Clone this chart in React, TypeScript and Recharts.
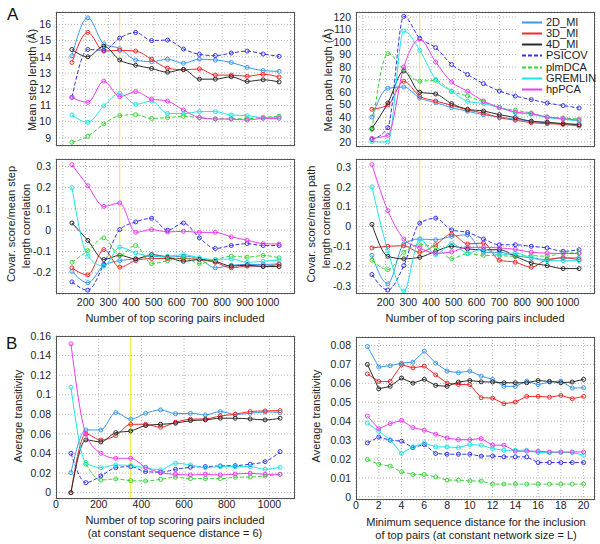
import React from 'react';
import { LineChart, Line, XAxis, YAxis, CartesianGrid, ReferenceLine } from 'recharts';

const FONT = '"Liberation Sans", Arial, Helvetica, sans-serif';

// x values
const topPairs = [140, 210, 280, 350, 420, 490, 560, 630, 700, 770, 840, 910, 980, 1050];
const transPairs = [70, 140, 210, 280, 350, 420, 490, 560, 630, 700, 770, 840, 910, 980, 1050];
const seqDistance = [1, 2, 3, 4, 5, 6, 7, 8, 9, 10, 11, 12, 13, 14, 15, 16, 17, 18, 19, 20];

const methods = ['2D_MI', '3D_MI', '4D_MI', 'PSICOV', 'plmDCA', 'GREMLIN', 'hpPCA'];
const colors: Record<string, string> = {
  '2D_MI': '#3a98f0',
  '3D_MI': '#f42a2a',
  '4D_MI': '#2a2a2a',
  PSICOV: '#3434f0',
  plmDCA: '#3ad43a',
  GREMLIN: '#1ee6e6',
  hpPCA: '#f03cf0',
};
const dashed: Record<string, boolean> = { PSICOV: true, plmDCA: true };

// panel A, top left
const meanStep: Record<string, (number | null)[]> = {
  '2D_MI': [14.06, 16.4, 14.8, 14.5, 13.8, 13.7, 13.85, 13.6, 13.85, 13.8, 13.65, 13.35, 13.15, 13.1],
  '3D_MI': [13.65, 15.5, 14.35, 14.4, 14.35, 13.85, 13.3, 13.2, 13.25, 12.87, 12.87, 12.8, 12.92, 12.75],
  '4D_MI': [14.45, 14.0, 14.65, 13.8, 13.48, 13.28, 13.05, 13.22, 12.62, 12.62, 12.77, 12.48, 12.58, 12.45],
  PSICOV: [11.5, 14.45, 14.4, 15.15, 15.5, 15.0, 15.03, 14.48, 14.15, 14.07, 14.23, 14.35, 14.17, 14.03],
  plmDCA: [8.73, 9.1, 9.86, 10.37, 10.43, 10.2, 10.25, 10.33, 10.25, 10.18, 10.18, 10.18, 10.27, 10.33],
  GREMLIN: [10.41, 9.96, 10.97, 11.75, 11.07, 11.27, 10.51, 10.49, 10.62, 10.62, 10.41, 10.37, 10.25, 10.27],
  hpPCA: [11.5, 11.19, 12.5, 11.54, 11.85, 11.4, 11.27, 10.72, 10.25, 10.16, 10.16, 10.1, 10.2, 10.2],
};

// panel A, top right
const meanPath: Record<string, (number | null)[]> = {
  '2D_MI': [40, 63, 64, 55.2, 51.5, 47.5, 44.6, 41.9, 40, 38.2, 36.6, 35.2, 34.7, 34.1],
  '3D_MI': [46.2, 49.6, 68.6, 56.6, 52.8, 49.4, 45.6, 43.2, 39.5, 37.4, 35.5, 34.7, 34.1, 32.8],
  '4D_MI': [30.8, 51.2, 76.8, 59.8, 58.4, 50.7, 46.2, 44.8, 41.9, 39.5, 36.6, 35.8, 34.7, 33.9],
  PSICOV: [22, 31.5, 120.5, 103, 95.5, 82, 74, 66.7, 60.8, 56.8, 53.9, 51.2, 49.1, 47.2],
  plmDCA: [30, 90.7, 78, 68.6, 69.4, 60.6, 56.8, 52, 47.5, 45.4, 43.2, 40, 39.2, 38.4],
  GREMLIN: [20.3, 20, 108.8, 93.4, 70, 60.6, 52.6, 50.7, 47.5, 43.5, 42.2, 39.5, 38.2, 36.8],
  hpPCA: [23, 25.4, 80, 102.2, 84, 68, 60.6, 52.8, 47.7, 44, 42.7, 40, 38.7, 37.4],
};

// panel A, middle left
const corrStep: Record<string, (number | null)[]> = {
  '2D_MI': [-0.193, -0.247, -0.166, -0.143, -0.135, -0.122, -0.127, -0.122, -0.135, -0.177, -0.165, -0.161, -0.161, -0.158],
  '3D_MI': [-0.177, -0.21, -0.091, -0.174, -0.143, -0.133, -0.133, -0.133, -0.138, -0.151, -0.177, -0.169, -0.169, -0.161],
  '4D_MI': [0.034, -0.048, -0.138, -0.118, -0.135, -0.115, -0.127, -0.146, -0.138, -0.146, -0.169, -0.164, -0.171, -0.171],
  PSICOV: [-0.243, -0.282, -0.161, 0.003, 0.039, 0.056, 0, 0.034, -0.036, -0.086, -0.072, -0.063, -0.072, -0.072],
  plmDCA: [-0.151, -0.096, -0.036, -0.118, -0.072, -0.157, -0.143, -0.127, -0.157, -0.138, -0.122, -0.127, -0.119, -0.13],
  GREMLIN: [0.2, -0.122, -0.169, -0.08, -0.107, -0.122, -0.122, -0.115, -0.13, -0.138, -0.135, -0.151, -0.146, -0.14],
  hpPCA: [0.308, 0.209, 0.112, 0.128, -0.01, 0.003, -0.008, -0.005, -0.01, -0.01, -0.031, -0.047, -0.063, -0.065],
};

// panel A, middle right
const corrPath: Record<string, (number | null)[]> = {
  '2D_MI': [-0.145, -0.288, -0.088, -0.063, -0.067, -0.05, -0.042, -0.13, -0.13, -0.147, -0.158, -0.167, -0.158, -0.158],
  '3D_MI': [-0.108, -0.1, -0.097, -0.13, -0.092, -0.038, -0.088, -0.083, -0.17, -0.18, -0.205, -0.167, -0.158, -0.167],
  '4D_MI': [0.011, -0.15, -0.163, -0.155, -0.125, -0.1, -0.113, -0.117, -0.117, -0.15, -0.183, -0.197, -0.212, -0.212],
  PSICOV: [-0.242, -0.32, -0.197, 0.017, 0.042, -0.017, -0.03, -0.063, -0.092, -0.092, -0.1, -0.108, -0.125, -0.117],
  plmDCA: [-0.17, -0.217, -0.13, -0.092, -0.103, -0.162, -0.137, -0.145, -0.147, -0.15, -0.147, -0.15, -0.133, -0.133],
  GREMLIN: [0.2, -0.122, -0.325, -0.063, -0.142, -0.085, -0.133, -0.113, -0.145, -0.133, -0.158, -0.172, -0.172, -0.172],
  hpPCA: [0.312, 0.08, -0.063, -0.108, -0.135, -0.128, -0.105, -0.105, -0.108, -0.115, -0.13, -0.134, -0.136, -0.136],
};

// panel B, left
const transByPairs: Record<string, (number | null)[]> = {
  '2D_MI': [0.0204, 0.064, 0.064, 0.0818, 0.075, 0.081, 0.0845, 0.0807, 0.081, 0.0794, 0.0828, 0.08, 0.081, 0.0824, 0.082],
  '3D_MI': [0, 0.06, 0.0538, 0.0583, 0.0698, 0.0698, 0.0668, 0.0719, 0.075, 0.0753, 0.0783, 0.08, 0.0828, 0.0835, 0.0838],
  '4D_MI': [0, 0.0538, 0.0518, 0.0613, 0.063, 0.0685, 0.0698, 0.0709, 0.0736, 0.0743, 0.076, 0.076, 0.0753, 0.0743, 0.076],
  PSICOV: [0.0402, 0.0102, 0.017, 0.0255, 0.0266, 0.0215, 0.0208, 0.0238, 0.0259, 0.0266, 0.0273, 0.0276, 0.029, 0.0317, 0.0419],
  plmDCA: [null, 0.029, 0.0129, 0.014, 0.0123, 0.0119, 0.0136, 0.0157, 0.0143, 0.0143, 0.0143, 0.0157, 0.016, 0.017, 0.0187],
  GREMLIN: [0.1076, 0.0307, 0.0255, 0.0283, 0.0276, 0.0255, 0.0232, 0.03, 0.0283, 0.0255, 0.0266, 0.0266, 0.0266, 0.0238, 0.0259],
  hpPCA: [0.152, 0.06, 0.0402, 0.0351, 0.0351, 0.0259, 0.0204, 0.0187, 0.018, 0.0187, 0.018, 0.019, 0.0198, 0.0187, 0.0187],
};

// panel B, right
const transByDist: Record<string, (number | null)[]> = {
  '2D_MI': [0.0795, 0.0686, 0.0693, 0.0707, 0.0712, 0.077, 0.0707, 0.0665, 0.0656, 0.0665, 0.0638, 0.0621, 0.0584, 0.0584, 0.0612, 0.0593, 0.0607, 0.0612, 0.0575, 0.0577],
  '3D_MI': [0.065, 0.061, 0.061, 0.0698, 0.0682, 0.0691, 0.0645, 0.0601, 0.0594, 0.0593, 0.0524, 0.0522, 0.0492, 0.0501, 0.0531, 0.0531, 0.0527, 0.0536, 0.0519, 0.0531],
  '4D_MI': [0.07, 0.0571, 0.0584, 0.0628, 0.0601, 0.0621, 0.0589, 0.0584, 0.0607, 0.0615, 0.0608, 0.0607, 0.0603, 0.0603, 0.0603, 0.0615, 0.061, 0.0603, 0.0607, 0.0621],
  PSICOV: [0.0285, 0.0316, 0.0299, 0.0294, 0.026, 0.0276, 0.0229, 0.0225, 0.0225, 0.0225, 0.0215, 0.0216, 0.0211, 0.0211, 0.0211, 0.0181, 0.0181, 0.0181, 0.0181, 0.0181],
  plmDCA: [0.0197, 0.0172, 0.0162, 0.0132, 0.0118, 0.0118, 0.0105, 0.0088, 0.0088, 0.0084, 0.0083, 0.0067, 0.0067, 0.0067, 0.0067, 0.0067, 0.0067, 0.0067, 0.0067, 0.0067],
  GREMLIN: [0.039, 0.0346, 0.0302, 0.0229, 0.0264, 0.0285, 0.0264, 0.0264, 0.026, 0.0276, 0.0273, 0.0255, 0.0246, 0.0246, 0.0246, 0.0234, 0.0234, 0.0234, 0.0234, 0.022],
  hpPCA: [0.0427, 0.036, 0.0387, 0.0404, 0.0366, 0.0352, 0.0331, 0.0311, 0.0302, 0.0302, 0.0308, 0.0273, 0.0273, 0.0241, 0.0241, 0.0241, 0.0237, 0.0237, 0.0237, 0.0237],
};

// ticks
const pairTicks = [100, 200, 300, 400, 500, 600, 700, 800, 900, 1000, 1100];
const stepTicks = [9, 10, 11, 12, 13, 14, 15, 16];
const pathTicks = [20, 30, 40, 50, 60, 70, 80, 90, 100, 110, 120];
const corrStepTicks = [-0.2, -0.1, 0, 0.1, 0.2, 0.3];
const corrPathTicks = [-0.3, -0.2, -0.1, 0, 0.1, 0.2, 0.3];
const transPairTicksX = [0, 200, 400, 600, 800, 1000];
const transPairTicksY = [0, 0.02, 0.04, 0.06, 0.08, 0.1, 0.12, 0.14, 0.16];
const distTicksX = [0, 2, 4, 6, 8, 10, 12, 14, 16, 18, 20];
const distTicksY = [0, 0.01, 0.02, 0.03, 0.04, 0.05, 0.06, 0.07, 0.08];

function buildRows(xs: number[], series: Record<string, (number | null)[]>) {
  return xs.map((x, i) => {
    const row: Record<string, number | null> = { x };
    methods.forEach((m) => {
      row[m] = series[m][i];
    });
    return row;
  });
}

const blank = () => '';
const pairLabel = (v: number) => (v === 100 || v === 1100 ? '' : String(v));
const dec = (v: number) => (v === 0 ? '0' : String(Number(v.toFixed(2))));

interface PanelProps {
  x: number;
  y: number;
  w: number;
  h: number;
  rows: Record<string, number | null>[];
  xDomain: number[];
  xTicks: number[];
  yDomain: number[];
  yTicks: number[];
  xFmt: (v: number) => string;
  yFmt?: (v: number) => string;
  xGap: number;
  curve: 'monotone' | 'linear';
  yellow?: boolean;
}

function Panel({ x, y, w, h, rows, xDomain, xTicks, yDomain, yTicks, xFmt, yFmt, xGap, curve, yellow }: PanelProps) {
  const ML = 45;
  const MT = 5;
  const MR = 5;
  const XH = 22;
  return (
    <div style={{ position: 'absolute', left: x - ML, top: y - MT }}>
      <LineChart width={w + ML + MR} height={h + MT + XH} data={rows} margin={{ top: MT, right: MR, left: 0, bottom: 0 }}>
        <CartesianGrid stroke="#b4b4b4" strokeDasharray="1 2" />
        <XAxis
          dataKey="x"
          type="number"
          domain={xDomain}
          ticks={xTicks}
          interval={0}
          allowDataOverflow
          axisLine={false}
          tickLine={false}
          tickSize={xGap}
          tickMargin={1}
          height={XH}
          tickFormatter={xFmt}
          tick={{ fontSize: 10.5, fill: '#222' }}
        />
        <YAxis
          type="number"
          domain={yDomain}
          ticks={yTicks}
          interval={0}
          allowDataOverflow
          axisLine={false}
          tickLine={false}
          tickSize={3}
          tickMargin={2}
          width={ML}
          tickFormatter={yFmt}
          tick={{ fontSize: 10.5, fill: '#222' }}
        />
        {yellow && <ReferenceLine x={350} stroke="#f2ec1c" strokeWidth={1} />}
        {methods.map((m) => (
          <Line
            key={m}
            dataKey={m}
            type={curve}
            stroke={colors[m]}
            strokeWidth={1}
            strokeDasharray={dashed[m] ? '4 2' : undefined}
            dot={{ r: 2, fill: 'none', stroke: colors[m], strokeWidth: 1, strokeDasharray: 'none' }}
            isAnimationActive={false}
            connectNulls={false}
          />
        ))}
      </LineChart>
      <div
        style={{
          position: 'absolute',
          left: ML,
          top: MT,
          width: w,
          height: h,
          border: '1px solid #555',
          boxSizing: 'border-box',
          pointerEvents: 'none',
        }}
      />
    </div>
  );
}

function VLabel({ cx, cy, text }: { cx: number; cy: number; text: string }) {
  return (
    <div
      style={{
        position: 'absolute',
        left: cx - 110,
        top: cy - 7,
        width: 220,
        height: 14,
        lineHeight: '14px',
        fontSize: 11,
        textAlign: 'center',
        transform: 'rotate(-90deg)',
        whiteSpace: 'nowrap',
        color: '#222',
      }}
    >
      {text}
    </div>
  );
}

function HLabel({ cx, cy, text }: { cx: number; cy: number; text: string }) {
  return (
    <div
      style={{
        position: 'absolute',
        left: cx - 150,
        top: cy - 7,
        width: 300,
        height: 14,
        lineHeight: '14px',
        fontSize: 11,
        textAlign: 'center',
        whiteSpace: 'nowrap',
        color: '#222',
      }}
    >
      {text}
    </div>
  );
}

function LegendBox() {
  return (
    <div style={{ position: 'absolute', left: 517, top: 14, width: 77, height: 81, background: '#fff' }}>
      {methods.map((m, i) => (
        <div key={m} style={{ position: 'absolute', left: 0, top: 2 + i * 11.15, height: 12, width: 77 }}>
          <svg width={22} height={12} style={{ position: 'absolute', left: 4, top: 0 }}>
            <line
              x1={1}
              y1={6.5}
              x2={21}
              y2={6.5}
              stroke={colors[m]}
              strokeWidth={2}
              strokeDasharray={dashed[m] ? '4 2' : undefined}
            />
          </svg>
          <span style={{ position: 'absolute', left: 29, top: 0, fontSize: 11, lineHeight: '12px', color: '#222' }}>{m}</span>
        </div>
      ))}
    </div>
  );
}

export default function App() {
  return (
    <div
      style={{
        position: 'absolute',
        left: 0,
        top: 0,
        width: 600,
        height: 544,
        background: '#fff',
        fontFamily: FONT,
        overflow: 'hidden',
      }}
    >
      <div style={{ position: 'absolute', left: 7, top: 6, fontSize: 17, lineHeight: '17px', color: '#111' }}>A</div>
      <div style={{ position: 'absolute', left: 6, top: 335, fontSize: 17, lineHeight: '17px', color: '#111' }}>B</div>

      <Panel x={56} y={12} w={239} h={134} rows={buildRows(topPairs, meanStep)} xDomain={[70, 1120]} xTicks={pairTicks}
        yDomain={[8.5, 16.76]} yTicks={stepTicks} xFmt={blank} xGap={4} curve="monotone" yellow />
      <Panel x={356} y={12} w={239} h={135} rows={buildRows(topPairs, meanPath)} xDomain={[70, 1120]} xTicks={pairTicks}
        yDomain={[16, 124]} yTicks={pathTicks} xFmt={blank} xGap={4} curve="monotone" yellow />
      <Panel x={56} y={159} w={239} h={135} rows={buildRows(topPairs, corrStep)} xDomain={[70, 1120]} xTicks={pairTicks}
        yDomain={[-0.3, 0.335]} yTicks={corrStepTicks} xFmt={pairLabel} yFmt={dec} xGap={4} curve="monotone" yellow />
      <Panel x={356} y={159} w={239} h={135} rows={buildRows(topPairs, corrPath)} xDomain={[70, 1120]} xTicks={pairTicks}
        yDomain={[-0.34, 0.34]} yTicks={corrPathTicks} xFmt={pairLabel} yFmt={dec} xGap={4} curve="monotone" yellow />
      <Panel x={56} y={336} w={239} h={163} rows={buildRows(transPairs, transByPairs)} xDomain={[0, 1120]} xTicks={transPairTicksX}
        yDomain={[-0.0065, 0.16]} yTicks={transPairTicksY} xFmt={(v) => String(v)} yFmt={dec} xGap={1} curve="monotone" yellow />
      <Panel x={356} y={337} w={239} h={163} rows={buildRows(seqDistance, transByDist)} xDomain={[0, 21]} xTicks={distTicksX}
        yDomain={[-0.0017, 0.0845]} yTicks={distTicksY} xFmt={(v) => String(v)} yFmt={dec} xGap={1} curve="linear" />

      <LegendBox />

      <VLabel cx={32} cy={80} text="Mean step length (Å)" />
      <VLabel cx={328} cy={80} text="Mean path length (Å)" />
      <VLabel cx={11} cy={224} text="Covar. score/mean step" />
      <VLabel cx={26} cy={226} text="length correlation" />
      <VLabel cx={311} cy={224} text="Covar. score/mean path" />
      <VLabel cx={326} cy={226} text="length correlation" />
      <VLabel cx={18} cy={416} text="Average transitivity" />
      <VLabel cx={316} cy={416} text="Average transitivity" />

      <HLabel cx={175} cy={318} text="Number of top scoring pairs included" />
      <HLabel cx={475} cy={318} text="Number of top scoring pairs included" />
      <HLabel cx={175} cy={520} text="Number of top scoring pairs included" />
      <HLabel cx={175} cy={533} text="(at constant sequence distance = 6)" />
      <HLabel cx={476} cy={522} text="Minimum sequence distance for the inclusion" />
      <HLabel cx={476} cy={535} text="of top pairs (at constant network size = L)" />
    </div>
  );
}
